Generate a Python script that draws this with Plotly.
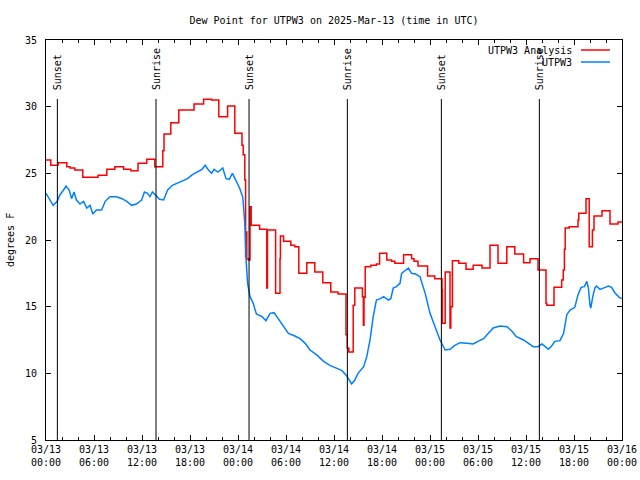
import pandas as pd
import plotly.graph_objects as go

BASE = pd.Timestamp("2025-03-13 00:00")

# Hours since 2025-03-13 00:00 UTC, and dew point (F) for the analysis (step series)
red_hours = [0.0, 0.6, 1.5, 2.6, 3.0, 3.6, 4.6, 6.5, 7.6, 8.6, 9.7, 10.6, 11.5, 12.6,
             13.6, 14.6, 14.75, 15.6, 16.6, 18.5, 19.7, 20.7, 21.6, 22.7, 23.6, 24.5,
             24.65, 24.85, 24.95, 25.05, 25.1, 25.3, 25.5, 25.65, 26.7, 27.6, 27.68,
             28.7, 29.25, 29.3, 29.7, 30.6, 31.1, 31.6, 32.6, 33.6, 34.6, 35.6, 36.5,
             37.5, 37.65, 37.85, 38.4, 38.6, 39.55, 39.67, 39.75, 39.9, 40.6, 41.3,
             41.7, 42.6, 43.2, 43.6, 44.7, 45.7, 46.0, 46.5, 47.7, 48.6, 49.5, 49.55,
             49.9, 50.5, 50.6, 50.8, 51.6, 52.5, 53.4, 54.5, 55.5, 56.5, 57.6, 58.6,
             59.7, 60.5, 61.5, 62.5, 62.6, 63.5, 64.46, 64.66, 64.8, 64.9, 65.4, 66.5,
             66.6, 67.5, 67.9, 68.3, 68.5, 69.5, 70.5, 71.5, 72.0]
red_vals = [26.0, 25.6, 25.8, 25.5, 25.4, 25.25, 24.7, 24.85, 25.3, 25.5, 25.3, 25.2, 25.75, 26.05,
            25.5, 26.7, 27.95, 28.8, 29.75, 30.2, 30.55, 30.5, 29.25, 30.05, 28.0, 27.1,
            26.4, 24.5, 18.75, 20.6, 18.6, 18.5, 22.5, 21.1, 20.8, 16.4, 20.75,
            16.0, 18.6, 20.3, 19.9, 19.6, 19.5, 17.5, 18.3, 17.6, 16.8, 16.1, 15.95,
            12.9, 11.9, 11.6, 15.1, 16.4, 15.75, 13.6, 15.7, 18.0, 18.1, 18.2,
            19.0, 18.5, 18.4, 18.25, 18.9, 18.6, 18.4, 18.05, 17.3, 17.1, 16.25, 13.75,
            17.6, 13.4, 15.0, 18.45, 18.25, 17.8, 18.1, 17.9, 19.6, 18.25, 19.5, 18.95,
            18.3, 18.6, 17.75, 15.25, 15.1, 16.45, 17.0, 17.75, 19.3, 20.9, 21.0, 21.5,
            22.0, 23.1, 19.5, 20.75, 21.8, 22.2, 21.2, 21.35, 21.35]

# Station observations
blue_hours = [0.0, 0.5, 0.9, 1.4, 1.75, 2.2, 2.5, 2.9, 3.2, 3.5, 3.8, 4.25, 4.7, 5.1, 5.5,
              5.85, 6.3, 6.95, 7.4, 8.0, 8.8, 9.5, 10.1, 10.7, 11.3, 11.95, 12.3, 12.7,
              13.0, 13.3, 13.8, 14.2, 14.7, 15.2, 15.8, 16.4, 17.0, 17.7, 18.3, 18.9,
              19.5, 19.9, 20.3, 20.7, 21.0, 21.5, 22.1, 22.5, 22.9, 23.3, 23.7, 24.2,
              24.6, 24.85, 25.0, 25.2, 25.5, 25.9, 26.3, 27.0, 27.5, 28.0, 28.5, 29.0,
              29.7, 30.3, 31.1, 31.75, 32.4, 33.0, 33.8, 34.7, 35.5, 36.3, 37.0, 37.6,
              37.9, 38.2, 38.6, 39.0, 39.7, 40.1, 40.5, 40.9, 41.3, 41.8, 42.2, 42.8,
              43.1, 43.4, 43.8, 44.25, 44.45, 44.9, 45.3, 45.7, 46.2, 46.75, 47.4, 48.0,
              48.6, 49.25, 49.9, 50.5, 51.1, 51.75, 52.6, 53.4, 54.0, 54.7, 55.3, 55.9,
              56.75, 57.6, 58.2, 58.8, 59.7, 60.3, 60.9, 61.5, 62.0, 62.4, 62.8, 63.2,
              63.6, 64.25, 64.7, 65.1, 65.5, 66.1, 66.5, 66.9, 67.3, 67.6, 67.8, 68.0,
              68.1, 68.3, 68.6, 68.8, 69.25, 69.9, 70.3, 70.7, 71.1, 71.65, 72.0]
blue_vals = [23.5, 23.0, 22.6, 22.9, 23.4, 23.75, 24.05, 23.75, 23.1, 23.6, 23.0, 22.7, 22.9, 22.4, 22.6,
             21.95, 22.25, 22.25, 22.9, 23.25, 23.25, 23.1, 22.9, 22.6, 22.7, 23.0, 23.6, 23.5,
             23.25, 23.6, 23.25, 23.05, 23.0, 23.75, 24.1, 24.25, 24.45, 24.6, 24.9, 25.1,
             25.3, 25.6, 25.25, 25.0, 25.3, 25.1, 25.4, 24.6, 24.55, 25.0, 24.55, 23.9,
             23.2, 21.25, 18.6, 16.75, 15.75, 15.25, 14.45, 14.25, 13.95, 14.5, 14.55, 14.1,
             13.5, 13.0, 12.8, 12.6, 12.25, 11.75, 11.4, 10.9, 10.6, 10.4, 10.2, 9.8,
             9.5, 9.2, 9.5, 10.0, 10.5, 11.25, 12.5, 14.25, 15.5, 15.6, 15.75, 15.5,
             15.6, 16.4, 16.5, 16.75, 17.5, 17.75, 17.9, 17.5, 17.45, 17.25, 16.0, 14.5,
             13.6, 12.5, 11.75, 11.8, 12.1, 12.3, 12.25, 12.2, 12.4, 12.6, 13.0, 13.4,
             13.55, 13.5, 13.2, 12.75, 12.5, 12.25, 12.0, 12.0, 12.2, 12.0, 11.8, 12.05,
             12.4, 12.45, 13.0, 14.4, 14.75, 14.95, 15.9, 16.45, 16.5, 16.9, 16.4, 15.1,
             14.9, 15.6, 16.4, 16.55, 16.3, 16.45, 16.55, 16.45, 16.05, 15.7, 15.6]

sun_labels = ["Sunset", "Sunrise", "Sunset", "Sunrise", "Sunset", "Sunrise"]
sun_hours = [1.42, 13.75, 25.38, 37.67, 49.42, 61.67]

series_names = ["UTPW3 Analysis", "UTPW3"]
series_colors = ["#ff0000", "#0080ff"]

y_ticks = [5, 10, 15, 20, 25, 30, 35]


def to_time(hours):
    return BASE + pd.to_timedelta(pd.Series(hours, dtype=float), unit="h")


FONT = "DejaVu Sans Mono"

fig = go.Figure()
fig.add_trace(go.Scatter(x=to_time(red_hours), y=red_vals, mode="lines",
                         line=dict(color=series_colors[0], width=1.5, shape="hv"),
                         name=series_names[0], showlegend=False))
fig.add_trace(go.Scatter(x=to_time(blue_hours), y=blue_vals, mode="lines",
                         line=dict(color=series_colors[1], width=1.5),
                         name=series_names[1], showlegend=False))

sun_times = to_time(sun_hours)
for t, lab in zip(sun_times, sun_labels):
    fig.add_shape(type="line", xref="x", yref="paper", x0=t, x1=t, y0=0, y1=0.8525,
                  line=dict(color="black", width=1))
    fig.add_annotation(x=t, xref="x", y=0.87, yref="paper", text=lab, textangle=-90,
                       showarrow=False, xanchor="center", yanchor="bottom",
                       font=dict(family=FONT, size=10, color="black"))

# manual gnuplot-style legend (text right, sample line right of it)
leg_y = [0.975, 0.945]
for name, col, yy in zip(series_names, series_colors, leg_y):
    fig.add_annotation(x=0.9167, xref="paper", y=yy, yref="paper", text=name,
                       showarrow=False, xanchor="right", yanchor="middle",
                       font=dict(family=FONT, size=10, color="black"))
    fig.add_shape(type="line", xref="paper", yref="paper", x0=0.9288, x1=0.979,
                  y0=yy, y1=yy, line=dict(color=col, width=1.5))

fig.add_annotation(x=-0.0625, xref="paper", y=0.5, yref="paper", text="degrees F",
                   textangle=-90, showarrow=False, xanchor="center", yanchor="middle",
                   font=dict(family=FONT, size=10, color="black"))

fig.update_layout(
    width=640, height=480,
    margin=dict(l=46, r=18, t=40, b=40, autoexpand=False),
    paper_bgcolor="white", plot_bgcolor="white",
    font=dict(family=FONT, size=10, color="black"),
    title=dict(text="Dew Point for UTPW3 on 2025-Mar-13 (time in UTC)",
               x=0.5, xref="paper", xanchor="center", y=1 - 20 / 480, yanchor="middle",
               font=dict(family=FONT, size=10, color="black")),
    showlegend=False,
    hovermode=False,
)
fig.update_xaxes(
    type="date",
    range=[BASE, BASE + pd.Timedelta(hours=72)],
    tickmode="linear", tick0=BASE, dtick=6 * 3600 * 1000,
    tickformat="%m/%d<br>%H:%M",
    ticks="inside", ticklen=5, tickcolor="black",
    showline=True, linecolor="black", linewidth=1, mirror="ticks",
    showgrid=False, zeroline=False,
    minor=dict(dtick=2 * 3600 * 1000, ticks="inside", ticklen=3, tickcolor="black", showgrid=False),
)
fig.update_yaxes(
    range=[5, 35], tickmode="array", tickvals=y_ticks, ticktext=[str(v) for v in y_ticks],
    ticks="inside", ticklen=5, tickcolor="black",
    showline=True, linecolor="black", linewidth=1, mirror="ticks",
    showgrid=False, zeroline=False, ticklabelstandoff=6,
)

fig.write_html("out.html", config={"displayModeBar": False},
               post_script="document.body.style.margin='0';document.body.style.padding='0';")
